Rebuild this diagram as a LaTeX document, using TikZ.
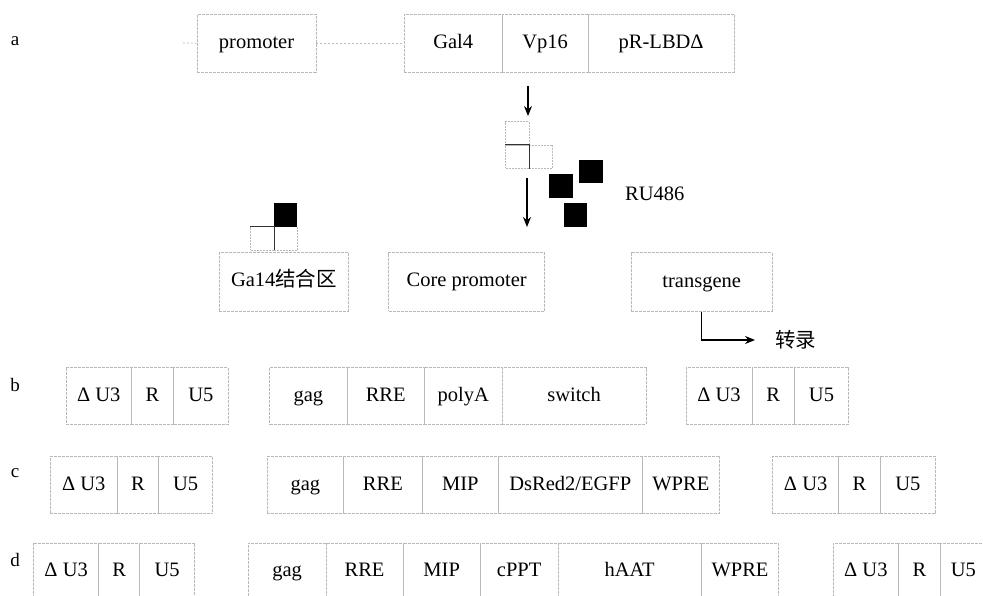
\documentclass[tikz,border=0pt]{standalone}
\usepackage{fontspec}
\setmainfont{Liberation Serif}
\newfontfamily\cjk{Noto Sans CJK SC}
\usetikzlibrary{arrows.meta}

\tikzset{
  seg/.style={draw=gray!55, line width=0.7pt, dash pattern=on 3pt off 1pt,
    inner sep=0pt, anchor=north west, text=black,
    font=\fontsize{20.5}{24}\selectfont, text height=14pt, text depth=4pt},
  link/.style={draw=gray!55, line width=0.7pt, dash pattern=on 2pt off 2pt},
  sq/.style={draw=gray!55, line width=0.7pt, dash pattern=on 2pt off 1pt,
    minimum size=23.5pt, inner sep=0pt},
  blk/.style={fill=black, minimum size=23.5pt, inner sep=0pt},
  bind/.style={line width=1.2pt, draw=black!80},
  arr/.style={line width=1.4pt, -{Stealth[length=10pt,width=8pt]}},
  lbl/.style={font=\fontsize{19}{22}\selectfont},
  txt/.style={font=\fontsize{20.5}{24}\selectfont},
}

% one cell of a construct: name, x-left, x-right, y-top, y-bottom, text
\newcommand{\cell}[6]{%
  \node[seg, minimum width={#3pt-#2pt}, minimum height={#5pt-#4pt}] (#1) at (#2,#4) {#6};}

\begin{document}
\begin{tikzpicture}[x=1pt, y=-1pt]
\clip (0,0) rectangle (983,595);
\fill[white] (0,0) rectangle (983,595);

% ---------- a: inducible activator system ----------
\node[lbl] (la) at (15,41) {a};
\cell{prom}{196.7}{315.7}{14}{71.7}{promoter}
\cell{gal}{404}{501.7}{14}{71.7}{Gal4}
\cell{vp}{501.7}{587.7}{14}{71.7}{Vp16}
\cell{pr}{587.7}{734}{14}{71.7}{pR-LBDΔ}
\coordinate (stub) at (183,43);
\draw[link] (stub) -- (prom.west);
\draw[link] (prom.east) -- (gal.west);

% activator complex
\node[sq] (at1) at (517.5,133.3) {};
\node[sq] (ab1) at (517.5,156.7) {};
\node[sq] (ab2) at (540.8,156.7) {};
\draw[bind] (ab1.north west) -- (ab1.north east) -- (ab1.south east);

\coordinate (p1) at (528,86);
\coordinate (p2) at (528,116);
\draw[arr] (p1) -- (p2);
\coordinate (p3) at (527,178);
\coordinate (p4) at (527,227);
\draw[arr] (p3) -- (p4);

% RU486
\node[blk] (ru1) at (560.9,186) {};
\node[blk] (ru2) at (590.9,171.7) {};
\node[blk] (ru3) at (575.7,215) {};
\node[txt, anchor=west, inner sep=0pt] (rut) at (625,194) {RU486};

% bound activator at the Gal4 site
\node[sq] (gb1) at (262.5,238.3) {};
\node[sq] (gb2) at (285.7,238.3) {};
\node[blk] (gk) at (285.7,215) {};
\draw[bind] (gb1.north west) -- (gb1.north east) -- (gb1.south east);

\cell{gsite}{219}{348.3}{252.3}{310.7}{Ga14{\cjk 结合区}}
\cell{core}{388.3}{544.3}{252.3}{310.7}{Core promoter}
\cell{tg}{631}{771.7}{252.3}{311}{transgene}
\node[txt, anchor=west, inner sep=0pt] (tx) at (775,340) {\cjk 转录};
\draw[arr, line width=1.3pt, shorten >=20pt] (tg.south) |- (tx.west);

% ---------- b ----------
\node[lbl] (lb) at (15,385) {b};
\cell{b1}{65.7}{131}{367.3}{424}{Δ U3}
\cell{b2}{131}{173.3}{367.3}{424}{R}
\cell{b3}{173.3}{227.7}{367.3}{424}{U5}
\cell{b4}{269.3}{346.7}{367.3}{424}{gag}
\cell{b5}{346.7}{424}{367.3}{424}{RRE}
\cell{b6}{424}{501.7}{367.3}{424}{polyA}
\cell{b7}{501.7}{645.7}{367.3}{424}{switch}
\cell{b8}{685.7}{751.7}{367.3}{424}{Δ U3}
\cell{b9}{751.7}{794}{367.3}{424}{R}
\cell{b10}{794}{848.3}{367.3}{424}{U5}

% ---------- c ----------
\node[lbl] (lc) at (15,473) {c};
\cell{c1}{50}{116.7}{456}{513.3}{Δ U3}
\cell{c2}{116.7}{158.3}{456}{513.3}{R}
\cell{c3}{158.3}{212.3}{456}{513.3}{U5}
\cell{c4}{266.7}{343.3}{456}{513.3}{gag}
\cell{c5}{343.3}{421.7}{456}{513.3}{RRE}
\cell{c6}{421.7}{498.3}{456}{513.3}{MIP}
\cell{c7}{498.3}{641.7}{456}{513.3}{DsRed2/EGFP\hspace{12pt}}
\cell{c8}{641.7}{719.3}{456}{513.3}{WPRE}
\cell{c9}{772.3}{838.3}{456}{513.3}{Δ U3}
\cell{c10}{838.3}{880}{456}{513.3}{R}
\cell{c11}{880}{935}{456}{513.3}{U5}

% ---------- d ----------
\node[lbl] (ld) at (15,560) {d};
\cell{d1}{33.3}{98.3}{542.5}{600}{Δ U3}
\cell{d2}{98.3}{139.3}{542.5}{600}{R}
\cell{d3}{139.3}{194.3}{542.5}{600}{U5}
\cell{d4}{247.7}{325.7}{542.5}{600}{gag}
\cell{d5}{325.7}{402.7}{542.5}{600}{RRE}
\cell{d6}{402.7}{480}{542.5}{600}{MIP}
\cell{d7}{480}{557.7}{542.5}{600}{cPPT}
\cell{d8}{557.7}{701}{542.5}{600}{hAAT}
\cell{d9}{701}{778.3}{542.5}{600}{WPRE}
\cell{d10}{832.7}{898.3}{542.5}{600}{Δ U3}
\cell{d11}{898.3}{940}{542.5}{600}{R}
\cell{d12}{940}{1000}{542.5}{600}{\hspace{-14pt}U5}
\end{tikzpicture}
\end{document}
